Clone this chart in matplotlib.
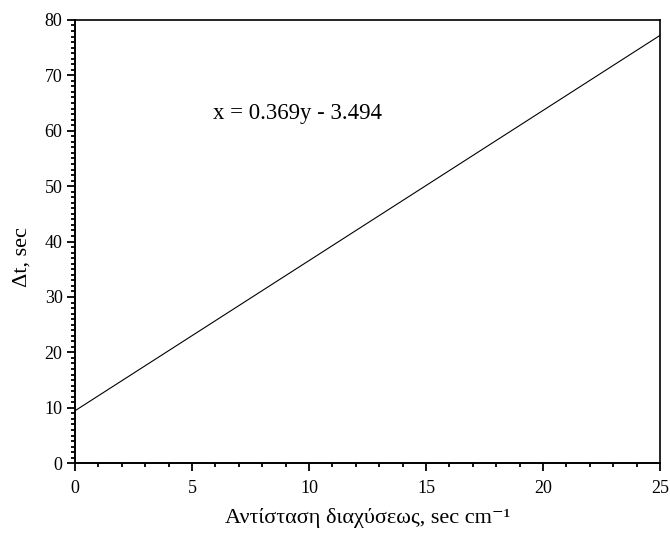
import numpy as np
import matplotlib.pyplot as plt
from matplotlib.ticker import MultipleLocator

plt.rcParams['font.family'] = ['Liberation Serif', 'DejaVu Serif']

# fitted line endpoints
resistance = [0.0, 25.0]
delta_t = [9.47, 77.2]
equation = 'x = 0.369y - 3.494'

fig = plt.figure(figsize=(6.7, 5.38), dpi=100)
ax = fig.add_axes([0.112, 0.139, 0.873, 0.824])

ax.plot(resistance, delta_t, color='black', lw=0.8)
ax.text(5.9, 63.1, equation, fontsize=16.4, va='center', ha='left')

ax.set_xlim(0, 25)
ax.set_ylim(0, 80)
ax.xaxis.set_major_locator(MultipleLocator(5))
ax.xaxis.set_minor_locator(MultipleLocator(1))
ax.yaxis.set_major_locator(MultipleLocator(10))
ax.yaxis.set_minor_locator(MultipleLocator(1))

ax.tick_params(axis='both', which='major', direction='out', length=6, width=1.3, labelsize=13)
ax.tick_params(axis='x', which='major', pad=6)
ax.tick_params(axis='y', which='major', pad=3)
ax.tick_params(axis='both', which='minor', direction='out', length=3, width=1.3)
for s in ['left', 'bottom']:
    ax.spines[s].set_linewidth(1.4)
for s in ['top', 'right']:
    ax.spines[s].set_linewidth(1.2)

ax.set_xlabel('Αντίσταση διαχύσεως, sec cm⁻¹', fontsize=16)
ax.xaxis.set_label_coords(0.5, -0.1)
ax.set_ylabel('Δt, sec', fontsize=16)
ax.yaxis.set_label_coords(-0.075, 0.465)

plt.savefig('out.png', dpi=100)
